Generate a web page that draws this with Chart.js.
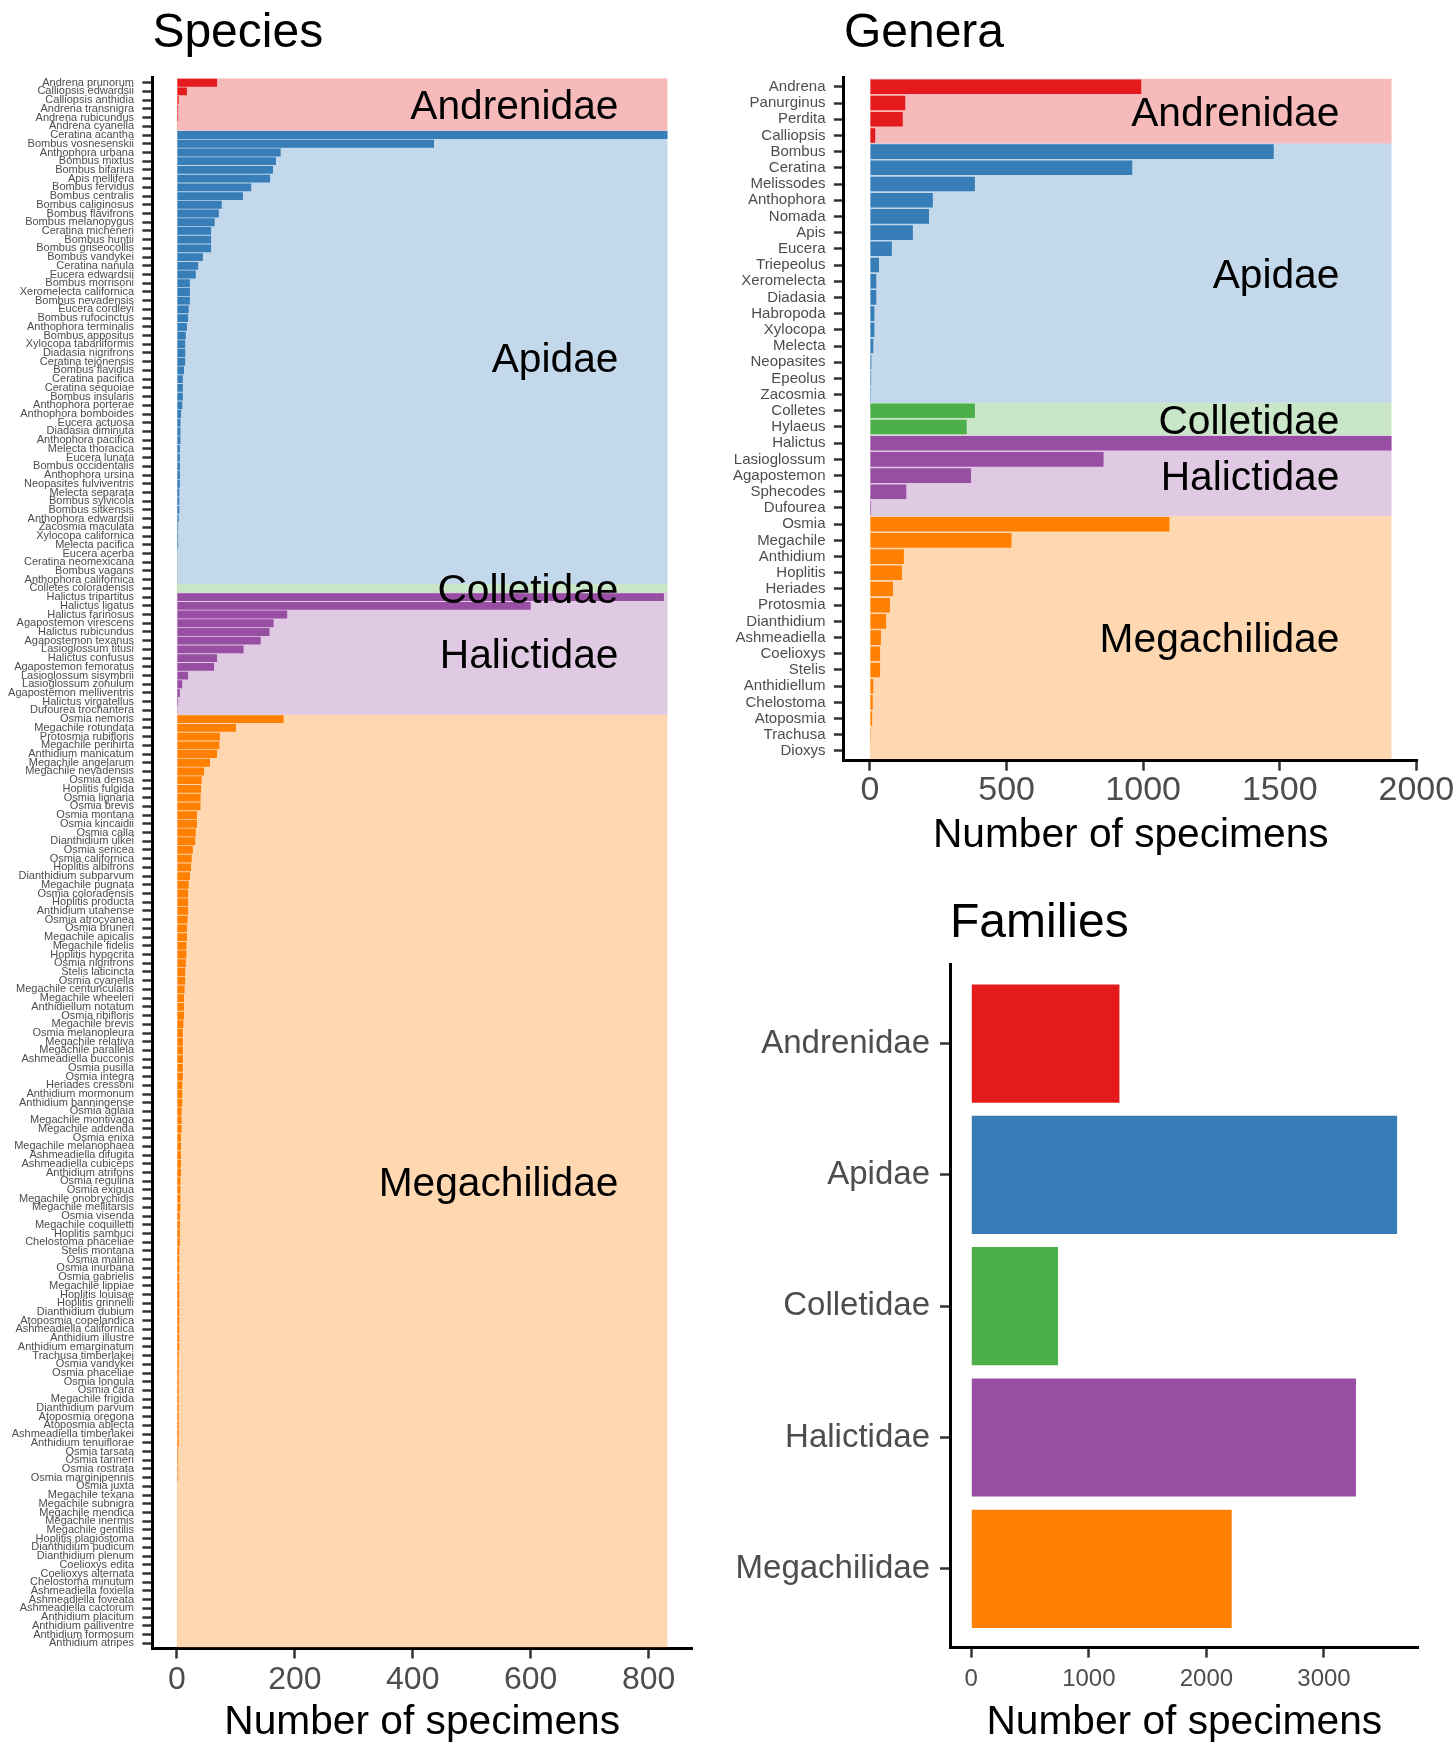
<!DOCTYPE html>
<html>
<head>
<meta charset="utf-8">
<title>Specimens by species, genera and families</title>
<script src="https://cdn.jsdelivr.net/npm/chart.js@4.4.0/dist/chart.umd.min.js"></script>
<style>
  html, body { margin: 0; padding: 0; background: #fff; width: 1453px; height: 1745px; overflow: hidden; position: relative; }
  canvas { position: absolute; }
  #species { left: 0; top: 0; }
  #genera { left: 720px; top: 0; }
  #families { left: 720px; top: 880px; }
</style>
</head>
<body>
<canvas id="species" width="720" height="1745"></canvas>
<canvas id="genera" width="780" height="880"></canvas>
<canvas id="families" width="733" height="865"></canvas>
<script>
const FONT = '"Liberation Sans", Arial, Helvetica, sans-serif';

const familyNames = ["Andrenidae", "Apidae", "Colletidae", "Halictidae", "Megachilidae"];
const familyColors = ["#E41A1C", "#377EB8", "#4DAF4A", "#984EA3", "#FF7F00"];
const familyShades = ["rgba(228,26,28,0.3)", "rgba(55,126,184,0.3)", "rgba(77,175,74,0.3)",
  "rgba(152,78,163,0.3)", "rgba(255,127,0,0.3)"];
const familyTotals = [1260, 3622, 738, 3272, 2215];

// species, sorted inside each family
const speciesNames = [
  "Andrena prunorum", "Calliopsis edwardsii", "Calliopsis anthidia", "Andrena transnigra", "Andrena rubicundus", "Andrena cyanella",
  "Ceratina acantha", "Bombus vosnesenskii", "Anthophora urbana", "Bombus mixtus", "Bombus bifarius", "Apis mellifera",
  "Bombus fervidus", "Bombus centralis", "Bombus caliginosus", "Bombus flavifrons", "Bombus melanopygus", "Ceratina micheneri",
  "Bombus huntii", "Bombus griseocollis", "Bombus vandykei", "Ceratina nanula", "Eucera edwardsii", "Bombus morrisoni",
  "Xeromelecta californica", "Bombus nevadensis", "Eucera cordleyi", "Bombus rufocinctus", "Anthophora terminalis", "Bombus appositus",
  "Xylocopa tabaniformis", "Diadasia nigrifrons", "Ceratina tejonensis", "Bombus flavidus", "Ceratina pacifica", "Ceratina sequoiae",
  "Bombus insularis", "Anthophora porterae", "Anthophora bomboides", "Eucera actuosa", "Diadasia diminuta", "Anthophora pacifica",
  "Melecta thoracica", "Eucera lunata", "Bombus occidentalis", "Anthophora ursina", "Neopasites fulviventris", "Melecta separata",
  "Bombus sylvicola", "Bombus sitkensis", "Anthophora edwardsii", "Zacosmia maculata", "Xylocopa californica", "Melecta pacifica",
  "Eucera acerba", "Ceratina neomexicana", "Bombus vagans", "Anthophora californica",
  "Colletes coloradensis",
  "Halictus tripartitus", "Halictus ligatus", "Halictus farinosus", "Agapostemon virescens", "Halictus rubicundus", "Agapostemon texanus",
  "Lasioglossum titusi", "Halictus confusus", "Agapostemon femoratus", "Lasioglossum sisymbrii", "Lasioglossum zonulum",
  "Agapostemon melliventris", "Halictus virgatellus", "Dufourea trochantera",
  "Osmia nemoris", "Megachile rotundata", "Protosmia rubifloris", "Megachile perihirta", "Anthidium manicatum", "Megachile angelarum",
  "Megachile nevadensis", "Osmia densa", "Hoplitis fulgida", "Osmia lignaria", "Osmia brevis", "Osmia montana", "Osmia kincaidii",
  "Osmia calla", "Dianthidium ulkei", "Osmia sericea", "Osmia californica", "Hoplitis albifrons", "Dianthidium subparvum",
  "Megachile pugnata", "Osmia coloradensis", "Hoplitis producta", "Anthidium utahense", "Osmia atrocyanea", "Osmia bruneri",
  "Megachile apicalis", "Megachile fidelis", "Hoplitis hypocrita", "Osmia nigrifrons", "Stelis laticincta", "Osmia cyanella",
  "Megachile centuncularis", "Megachile wheeleri", "Anthidiellum notatum", "Osmia ribifloris", "Megachile brevis", "Osmia melanopleura",
  "Megachile relativa", "Megachile parallela", "Ashmeadiella bucconis", "Osmia pusilla", "Osmia integra", "Heriades cressoni",
  "Anthidium mormonum", "Anthidium banningense", "Osmia aglaia", "Megachile montivaga", "Megachile addenda", "Osmia enixa",
  "Megachile melanophaea", "Ashmeadiella difugita", "Ashmeadiella cubiceps", "Anthidium atrifons", "Osmia regulina", "Osmia exigua",
  "Megachile onobrychidis", "Megachile mellitarsis", "Osmia visenda", "Megachile coquilletti", "Hoplitis sambuci", "Chelostoma phaceliae",
  "Stelis montana", "Osmia malina", "Osmia inurbana", "Osmia gabrielis", "Megachile lippiae", "Hoplitis louisae", "Hoplitis grinnelli",
  "Dianthidium dubium", "Atoposmia copelandica", "Ashmeadiella californica", "Anthidium illustre", "Anthidium emarginatum",
  "Trachusa timberlakei", "Osmia vandykei", "Osmia phaceliae", "Osmia longula", "Osmia cara", "Megachile frigida", "Dianthidium parvum",
  "Atoposmia oregona", "Atoposmia abjecta", "Ashmeadiella timberlakei", "Anthidium tenuiflorae", "Osmia tarsata", "Osmia tanneri",
  "Osmia rostrata", "Osmia marginipennis", "Osmia juxta", "Megachile texana", "Megachile subnigra", "Megachile mendica",
  "Megachile inermis", "Megachile gentilis", "Hoplitis plagiostoma", "Dianthidium pudicum", "Dianthidium plenum", "Coelioxys edita",
  "Coelioxys alternata", "Chelostoma minutum", "Ashmeadiella foxiella", "Ashmeadiella foveata", "Ashmeadiella cactorum",
  "Anthidium placitum", "Anthidium palliventre", "Anthidium formosum", "Anthidium atripes"
];
const speciesCounts = [
  68, 17, 3, 2, 2, 1,
  832, 436, 176, 168, 163, 158, 126, 112, 76, 71, 64, 58, 58, 58, 44, 36, 32, 22, 22, 22, 20, 19, 17, 15,
  14, 14, 14, 12, 10, 10, 10, 9, 7, 6, 6, 6, 5, 5, 5, 5, 5, 4, 4, 4, 3, 2, 2, 2, 1, 1, 1, 1,
  1,
  826, 600, 187, 164, 157, 142, 113, 68, 63, 19, 9, 5, 2, 1,
  181, 100, 73, 72, 68, 56, 46, 42, 41, 40, 40, 34, 34, 32, 31, 27, 25, 24, 22, 20,
  19, 19, 19, 18, 17, 17, 16, 16, 15, 14, 14, 13, 12, 12, 12, 11, 10, 10, 10, 10,
  10, 10, 9, 9, 9, 8, 8, 8, 7, 7, 7, 7, 7, 6, 6, 6, 6, 5, 5, 5,
  5, 4, 4, 4, 4, 4, 4, 4, 4, 4, 4, 4, 4, 3, 3, 3, 3, 3, 3, 3,
  3, 3, 3, 3, 2, 2, 2, 2, 1, 1, 1, 1, 1, 1, 1, 1, 1, 1, 1, 1,
  1, 1, 1, 1, 1, 1, 1
];
const speciesPerFamily = [6, 52, 1, 14, 107];

const generaNames = [
  "Andrena", "Panurginus", "Perdita", "Calliopsis",
  "Bombus", "Ceratina", "Melissodes", "Anthophora", "Nomada", "Apis", "Eucera", "Triepeolus", "Xeromelecta",
  "Diadasia", "Habropoda", "Xylocopa", "Melecta", "Neopasites", "Epeolus", "Zacosmia",
  "Colletes", "Hylaeus",
  "Halictus", "Lasioglossum", "Agapostemon", "Sphecodes", "Dufourea",
  "Osmia", "Megachile", "Anthidium", "Hoplitis", "Heriades", "Protosmia", "Dianthidium", "Ashmeadiella",
  "Coelioxys", "Stelis", "Anthidiellum", "Chelostoma", "Atoposmia", "Trachusa", "Dioxys"
];
const generaCounts = [
  993, 129, 120, 19,
  1478, 960, 384, 230, 216, 157, 80, 33, 23, 23, 16, 16, 12, 5, 4, 3,
  384, 354,
  1909, 855, 370, 133, 4,
  1096, 518, 124, 117, 84, 73, 59, 40, 37, 37, 12, 10, 8, 3, 2
];
const generaPerFamily = [4, 16, 2, 5, 15];

const speciesTicks = [0, 200, 400, 600, 800];
const generaTicks = [0, 500, 1000, 1500, 2000];
const familyTicks = [0, 1000, 2000, 3000];

function rowColors(perFamily) {
  return perFamily.flatMap((n, k) => Array(n).fill(familyColors[k]));
}

// shaded family bands, family names and the panel title
function panelDecor(title, titleGap, perFamily, maxValue) {
  const bands = [];
  let start = 0;
  perFamily.forEach((n, k) => {
    bands.push({ k: k, from: start, to: start + n - 1 });
    start += n;
  });
  return {
    id: "panelDecor",
    beforeDatasetsDraw(chart) {
      const { ctx, scales: { x, y } } = chart;
      const x0 = x.getPixelForValue(0);
      const x1 = x.getPixelForValue(maxValue);
      ctx.save();
      bands.forEach(b => {
        const ya = y.getPixelForValue(b.from - 0.5);
        const yb = y.getPixelForValue(b.to + 0.5);
        ctx.fillStyle = familyShades[b.k];
        ctx.fillRect(x0, ya, x1 - x0, yb - ya);
      });
      ctx.restore();
    },
    afterDatasetsDraw(chart) {
      const { ctx, scales: { x, y } } = chart;
      ctx.save();
      ctx.font = "40.7px " + FONT;
      ctx.fillStyle = "#000";
      ctx.textAlign = "right";
      ctx.textBaseline = "middle";
      bands.forEach(b => {
        const ya = y.getPixelForValue(b.from - 0.5);
        const yb = y.getPixelForValue(b.to + 0.5);
        ctx.fillText(familyNames[b.k], x.getPixelForValue(maxValue * 0.9), (ya + yb) / 2 + 3.5);
      });
      ctx.restore();
    },
    afterDraw(chart) {
      const { ctx, chartArea } = chart;
      ctx.save();
      ctx.font = "48px " + FONT;
      ctx.fillStyle = "#000";
      ctx.textAlign = "left";
      ctx.textBaseline = "alphabetic";
      ctx.fillText(title, chartArea.left, chartArea.top - titleGap);
      ctx.restore();
    }
  };
}

function axisX(min, max, tickValues, size, pad, titlePad, height) {
  return {
    type: "linear", min: min, max: max,
    afterBuildTicks(scale) { scale.ticks = tickValues.map(v => ({ value: v })); },
    ticks: { maxRotation: 0, autoSkip: false, color: "#4D4D4D",
      font: { family: FONT, size: size, lineHeight: 1 }, padding: pad,
      callback: v => String(v) },
    grid: { drawOnChartArea: false, drawTicks: true, tickLength: 10, tickColor: "#333333", tickWidth: 2.5 },
    border: { display: true, color: "#000", width: 3 },
    title: { display: true, text: "Number of specimens", color: "#000",
      font: { family: FONT, size: 40.7, lineHeight: 1 }, padding: { top: 0, bottom: titlePad } },
    afterFit(scale) { scale.height = height; }
  };
}

function axisY(names, size, pad, width) {
  return {
    type: "linear", reverse: true, min: -0.6, max: names.length - 0.4,
    offset: false,
    afterBuildTicks(scale) { scale.ticks = names.map((n, i) => ({ value: i })); },
    ticks: { autoSkip: false, color: "#4D4D4D",
      font: { family: FONT, size: size, lineHeight: 1 }, padding: pad,
      callback: v => names[v] },
    grid: { offset: false, drawOnChartArea: false, drawTicks: true, tickLength: 10, tickColor: "#333333", tickWidth: 2.5 },
    border: { display: true, color: "#000", width: 3 },
    afterFit(scale) { scale.width = width; }
  };
}

function barChart(id, counts, colors, xAxis, yAxis, padding, decor) {
  new Chart(document.getElementById(id), {
    type: "bar",
    data: {
      datasets: [{
        data: counts.map((v, i) => ({ x: v, y: i })),
        backgroundColor: colors,
        borderWidth: 0,
        categoryPercentage: 1,
        barPercentage: 0.9
      }]
    },
    options: {
      indexAxis: "y",
      responsive: false,
      animation: false,
      devicePixelRatio: 1,
      layout: { padding: padding },
      plugins: { legend: { display: false }, tooltip: { enabled: false } },
      scales: { x: xAxis, y: yAxis }
    },
    plugins: [decor]
  });
}

barChart("species", speciesCounts, rowColors(speciesPerFamily),
  axisX(-41.6, 873.6, speciesTicks, 32, 5.5, 2.25, 96.5),
  axisY(speciesNames, 11, 8.4, 152.4),
  { top: 77.5, right: 28, left: 0, bottom: 0 },
  panelDecor("Species", 31, speciesPerFamily, Math.max(...speciesCounts)));

barChart("genera", generaCounts, rowColors(generaPerFamily),
  axisX(-95.5, 2004.5, generaTicks, 34, 3.3, 23.65, 119.3),
  axisY(generaNames, 15, 8.4, 123.9),
  { top: 77.1, right: 82.4, left: 0, bottom: 0 },
  panelDecor("Genera", 30.5, generaPerFamily, Math.max(...generaCounts)));

barChart("families", familyTotals, familyColors,
  axisX(-181, 3804, familyTicks, 24, 10, 2.25, 97.4),
  axisY(familyNames, 33, 10, 230),
  { top: 84.8, right: 34.5, left: 0, bottom: 0 },
  panelDecor("Families", 28, [], 0));
</script>
</body>
</html>
